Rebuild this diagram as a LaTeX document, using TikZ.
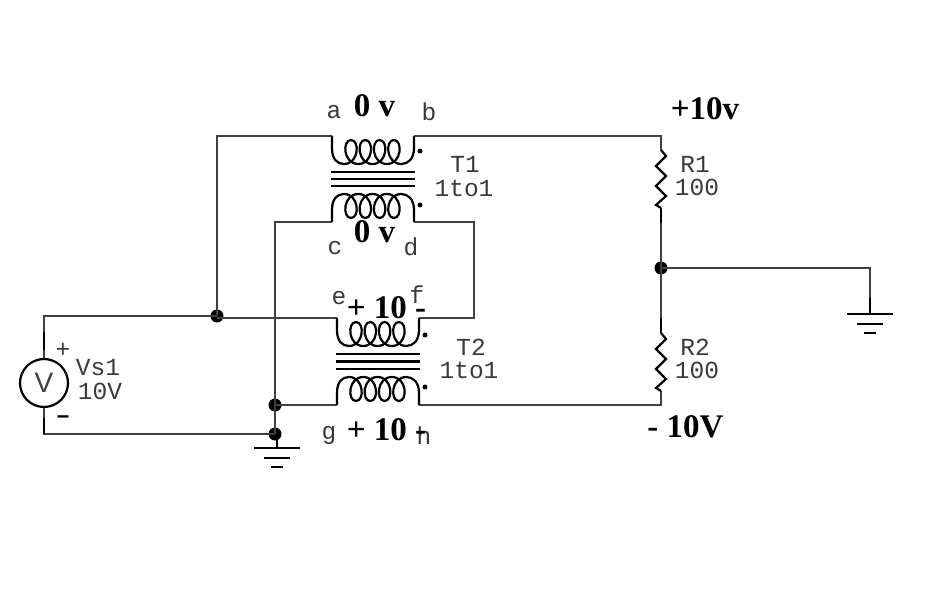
\documentclass[tikz,border=0pt]{standalone}
\usepackage{fontspec}
\setmainfont{Liberation Serif}
\newfontfamily\schemfont{Liberation Mono}
\newfontfamily\symfont{Liberation Sans}
\definecolor{wirecol}{HTML}{404040}
\definecolor{labcol}{HTML}{3A3A3A}
\tikzset{
  x=1pt,y=-1pt,
  wire/.style={draw=wirecol,line width=2pt},
  lead/.style={draw=black,line width=2.2pt},
  dotj/.style={circle,fill=black,inner sep=0pt,minimum size=13pt},
  polar/.style={circle,fill=black,inner sep=0pt,minimum size=5pt},
  corebar/.style={draw=black,line width=2.2pt},
  lab/.style={inner sep=0pt,text=labcol,font=\schemfont\fontsize{24.5}{24.5}\selectfont},
  volt/.style={inner sep=0pt,text=black,font=\bfseries\fontsize{33}{33}\selectfont},
  gnd/.style={draw=black,line width=2.2pt},
  pics/coil/.style={code={
    \draw[lead,line join=round] (0,0) -- (0,12) .. controls (0,23) and (5,28) .. (12,28)
      foreach \i in {0,1,2,3} {
        .. controls ({12+14.3*\i+15},28) and ({12+14.3*\i+16},4) .. ({19+14.3*\i},4)
        .. controls ({12+14.3*\i-2},4) and ({12+14.3*\i-1},28) .. ({26.3+14.3*\i},28)
      }
      .. controls (76,28) and (82,23) .. (82,12) -- (82,0);
  }},
}
\newcommand{\groundsym}[2]{%
  \draw[gnd] (#1-23,#2) -- (#1+23,#2);
  \draw[gnd] (#1-13,#2+10) -- (#1+13,#2+10);
  \draw[gnd] (#1-6,#2+19) -- (#1+6,#2+19);
}
\begin{document}
\begin{tikzpicture}
\useasboundingbox (0,0) rectangle (934,604);
% named points
\coordinate (ta) at (332,136);
\coordinate (tb) at (414,136);
\coordinate (tc) at (332,222);
\coordinate (td) at (414,222);
\coordinate (te) at (337,318);
\coordinate (tf) at (419,318);
\coordinate (tg) at (337,405);
\coordinate (th) at (419,405);
\coordinate (tl) at (217,136);
\coordinate (tm) at (661,136);
\coordinate (bm) at (661,405);
\coordinate (cl) at (275,222);
\coordinate (cr) at (474,222);
\coordinate (fr) at (474,318);
\coordinate (vtop) at (44,316);
\coordinate (vbot) at (44,434);
\coordinate (jh) at (217,318);
\coordinate (gr) at (870,268);
\coordinate (gre) at (870,314);
\coordinate (gl) at (277,448);
\coordinate (r1t) at (661,150);
\coordinate (r1b) at (661,208);
\coordinate (r2t) at (661,333);
\coordinate (r2b) at (661,391);
% junctions
\node[dotj] (j1) at (217,316) {};
\node[dotj] (j2) at (275,405) {};
\node[dotj] (j3) at (275,434) {};
\node[dotj] (j4) at (661,268) {};
% source
\node[circle,draw=black,line width=2.2pt,fill=white,minimum size=48pt,inner sep=0pt] (vs) at (44,383) {};
\node[inner sep=0pt,text=wirecol,font=\symfont\fontsize{28}{28}\selectfont] (vsym) at (44,383) {V};
% wires
\draw[wire] (vs.north) -- (vtop) -- (j1.center);
\draw[wire] (jh) -- (te);
\draw[lead] (44,332) -- (44,350);
\draw[wire] (vs.south) -- (vbot) -- (j3.center);
\draw[lead] (44,418) -- (vbot);
\draw[wire] (j1.center) -- (tl) -- (ta);
\draw[wire] (tb) -- (tm) -- (r1t);
\draw[wire] (r1b) -- (j4.center) -- (r2t);
\draw[lead] (r1b) -- (661,223);
\draw[lead] (661,318) -- (r2t);
\draw[wire] (r2b) -- (bm) -- (th);
\draw[wire] (j3.center) -- (cl) -- (tc);
\draw[wire] (td) -- (cr) -- (fr) -- (tf);
\draw[wire] (j2.center) -- (tg);
\draw[wire] (j4.center) -- (gr) -- (gre);
\draw[lead] (870,298) -- (gre);
\draw[lead] (277,434) -- (gl);
% transformer T1
\pic at (ta) {coil};
\pic[yscale=-1] at (tc) {coil};
\draw[corebar] (331,172) -- (415,172);
\draw[corebar] (331,179) -- (415,179);
\draw[corebar] (331,186) -- (415,186);
\node[polar] (d1) at (420,151) {};
\node[polar] (d2) at (420,205) {};
% transformer T2
\pic at (te) {coil};
\pic[yscale=-1] at (tg) {coil};
\draw[corebar] (336,354) -- (420,354);
\draw[corebar] (336,361.5) -- (420,361.5);
\draw[corebar] (336,369) -- (420,369);
\node[polar] (d3) at (425,335) {};
\node[polar] (d4) at (425,387) {};
% resistors
\draw[lead,line join=miter] (r1t) -- (666,156) -- (656,166) -- (666,176) -- (656,186) -- (666,196) -- (656,205) -- (r1b);
\draw[lead,line join=miter] (r2t) -- (666,339) -- (656,349) -- (666,359) -- (656,369) -- (666,379) -- (656,388) -- (r2b);
% grounds
\groundsym{277}{448}
\groundsym{870}{314}
% labels
\node[lab] (la) at (334,112) {a};
\node[lab] (lb) at (429,112) {b};
\node[lab] (lc) at (335,248) {c};
\node[lab] (ld) at (411,247) {d};
\node[lab] (le) at (339,298) {e};
\node[lab] (lf) at (417,295) {f};
\node[lab] (lg) at (329,435) {g};
\node[lab] (lh) at (424,436) {h};
\node[lab] (t1a) at (465,164) {T1};
\node[lab] (t1b) at (464,188) {1to1};
\node[lab] (t2a) at (471,347) {T2};
\node[lab] (t2b) at (469,370) {1to1};
\node[lab] (r1a) at (695,164) {R1};
\node[lab] (r1v) at (697,187) {100};
\node[lab] (r2a) at (695,347) {R2};
\node[lab] (r2v) at (697,370) {100};
\node[lab] (vsa) at (98,368) {Vs1};
\node[lab] (vsb) at (100,391) {10V};
\node[lab] (vp) at (63,350) {+};
\node[inner sep=0pt,xscale=1.5,font=\bfseries\fontsize{28}{28}\selectfont] (vm) at (63,420) {-};
% voltages
\node[volt] (v0a) at (374.5,106) {0 v};
\node[volt] (v0b) at (374.5,232) {0 v};
\node[volt] (v10a) at (386.5,308) {+ 10 -};
\node[volt] (v10b) at (386.5,430) {+ 10 -};
\node[volt] (vpos) at (705,109) {+10v};
\node[volt] (vneg) at (685.5,427) {- 10V};
\end{tikzpicture}
\end{document}
